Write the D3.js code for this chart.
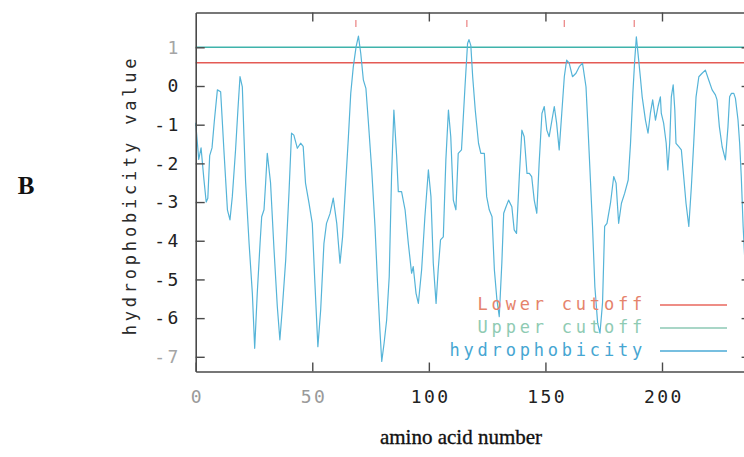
<!DOCTYPE html>
<html>
<head>
<meta charset="utf-8">
<script src="https://cdn.jsdelivr.net/npm/d3@7"></script>
<style>
  html, body { margin: 0; padding: 0; background: #fff; }
  svg { display: block; }
  .mono { font-family: "DejaVu Sans Mono", monospace; font-size: 17px; letter-spacing: 3.8px; }
  .tick-label { font-family: "DejaVu Sans Mono", monospace; font-size: 18px; letter-spacing: 2.4px; }
</style>
</head>
<body>
<svg id="chart" width="744" height="457"></svg>
<script>
// Hydrophobicity profile along the sequence (residue number, value)
const residue = [
  0, 1.3, 2.3, 3.5, 4.5, 5.2, 6, 7, 8, 9.3, 10.7, 11.4, 12.1, 13.6, 14.7, 15.7, 17.1, 18.1, 19, 20,
  20.7, 21.4, 22.9, 24.3, 25.3, 26.4, 27.6, 28.3, 29.3, 30, 30.7, 32.1, 33.6, 35, 36.1, 37.1, 38.6, 40, 41.1, 42.1,
  43.6, 45, 46.1, 47.1, 48.6, 50, 51, 52.4, 53.6, 55, 56.1, 57.6, 59, 60.5, 61.9, 63, 64, 65.5, 66.5, 67.6,
  68.8, 69.8, 70.8, 71.9, 73, 74, 75.5, 76.9, 78, 79, 79.8, 80.8, 81.9, 83, 84, 85, 86.2, 86.9, 88.3, 89.8,
  91.2, 92.6, 93.3, 94.5, 95.5, 96.9, 98.3, 99.8, 100.9, 101.9, 103.1, 104, 105, 106.2, 107.3, 108.4, 109.4, 110.5, 111.6, 112.6,
  114, 115.5, 116.6, 117.2, 118, 118.8, 119.9, 121.3, 122.3, 123.8, 124.8, 125.9, 127.1, 128.1, 129.2, 130.2, 131.3, 132.1, 133.1, 134.2,
  135.6, 136.6, 137.6, 138.8, 139.9, 140.9, 142.1, 143.1, 144.1, 145.2, 146.3, 147.3, 148.5, 149.5, 150.6, 151.6, 152.8, 153.8, 154.8, 155.9,
  157, 158.1, 159.1, 160.2, 161.6, 163.1, 164.5, 165.9, 167.4, 168.1, 169.1, 170.2, 171.2, 172.4, 173.4, 174.5, 175.4, 176.4, 177.9, 179.3,
  180.3, 181.4, 182.6, 184, 185.5, 186.5, 187.5, 188.3, 189, 190, 190.7, 191.5, 192.9, 194, 195, 196, 197.2, 198.3, 199.3, 199.7,
  200.7, 201.8, 202.5, 203.3, 204, 204.8, 205.5, 206, 207.2, 208.3, 209.3, 210.3, 211.5, 212.6, 213.6, 214.6, 215.8, 217.2, 218.6, 220,
  221.5, 222.9, 223.6, 224.6, 225.8, 227.2, 228.3, 229, 229.8, 230.8, 231.5, 232.6, 233.3, 234, 234.8, 235.6, 236.5, 237.5
];
const hydrophobicity = [
  -0.95, -1.9, -1.6, -2.4, -3.0, -2.9, -1.8, -1.6, -0.9, -0.1, -0.15, -0.9, -1.66, -3.2, -3.46, -2.86, -1.65, -0.62, 0.24, -0.02,
  -1.3, -2.47, -4.07, -5.36, -6.78, -5.36, -4.07, -3.38, -3.2, -2.5, -1.74, -2.5, -4.24, -5.7, -6.56, -5.79, -4.5, -2.77, -1.22, -1.27,
  -1.61, -1.48, -1.56, -2.51, -3.03, -3.55, -4.93, -6.74, -5.79, -4.07, -3.55, -3.3, -2.9, -3.55, -4.58, -3.9, -2.86, -1.31, -0.19, 0.5,
  1.02, 1.29, 0.84, 0.16, -0.06, -0.88, -2.17, -3.63, -5.1, -6.3, -7.12, -6.65, -6.05, -4.93, -2.34, -0.62, -1.83, -2.73, -2.73, -3.2,
  -4.07, -4.84, -4.67, -5.36, -5.62, -4.75, -3.38, -2.17, -2.86, -4.58, -5.62, -4.75, -3.98, -3.9, -1.91, -0.62, -1.31, -2.95, -3.2, -1.74,
  -1.65, -0.02, 1.1, 1.2, 1.05, 0.24, -0.62, -1.48, -1.74, -1.74, -2.86, -3.2, -3.38, -4.75, -5.53, -5.96, -4.58, -3.29, -3.12, -2.95,
  -3.12, -3.72, -3.81, -2.34, -1.14, -1.31, -2.26, -2.26, -2.34, -2.95, -3.29, -2.0, -0.71, -0.53, -1.14, -1.31, -0.88, -0.53, -0.96, -1.65,
  -0.71, 0.24, 0.67, 0.59, 0.24, 0.33, 0.5, 0.59, -0.02, -0.88, -2.17, -3.63, -5.19, -6.13, -6.39, -5.6, -3.63, -3.55, -3.03, -2.34,
  -2.51, -3.55, -3.03, -2.77, -2.43, -1.48, -0.19, 0.67, 1.27, 0.67, 0.24, -0.28, -0.88, -1.22, -0.71, -0.36, -0.88, -0.53, -0.28, -0.71,
  -0.96, -1.48, -2.17, -1.48, -0.28, 0.03, -0.62, -1.48, -1.57, -1.65, -2.34, -3.03, -3.63, -2.6, -1.48, -0.28, 0.24, 0.33, 0.41, 0.16,
  -0.1, -0.23, -0.36, -1.05, -1.57, -1.91, -1.05, -0.28, -0.19, -0.19, -0.32, -0.88, -1.48, -2.34, -3.63, -4.6, -4.0, -3.0
];

// Cutoff levels and residues flagged above the lower cutoff
const lowerCutoff = 0.6;
const upperCutoff = 1.0;
const flaggedResidues = [68.7, 116.3, 158.1, 188.1];

// Axis ticks
const xTickValues = [0, 50, 100, 150, 200];
const xTickLabels = ["0", "50", "100", "150", "200"];
const yTickValues = [-7, -6, -5, -4, -3, -2, -1, 0, 1];
const yTickLabels = ["-7", "-6", "-5", "-4", "-3", "-2", "-1", "0", "1"];

const legendItems = [
  { label: "Lower cutoff", text: "#e5836c", line: "#e8675e" },
  { label: "Upper cutoff", text: "#8fcbb3", line: "#8cc9b4" },
  { label: "hydrophobicity", text: "#46a6d2", line: "#4aaad6" }
];

const svg = d3.select("#chart");
svg.append("rect").attr("width", 744).attr("height", 457).attr("fill", "#fff");

const plot = { left: 195.7, right: 750.6, top: 12.5, bottom: 371.5 };

const x = d3.scaleLinear().domain([0, 238]).range([plot.left, plot.right]);
const y = d3.scaleLinear().domain([-7.38, 1.9]).range([plot.bottom, plot.top]);

const axisColor = "#4a4a4a";
const fadedLabels = new Set(["0", "50"]);
const fadedYLabels = new Set(["1", "-7"]);

// Cutoff lines
svg.append("line")
  .attr("x1", plot.left).attr("x2", plot.right)
  .attr("y1", y(upperCutoff)).attr("y2", y(upperCutoff))
  .attr("stroke", "#3fb3ab").attr("stroke-width", 1.4);
svg.append("line")
  .attr("x1", plot.left).attr("x2", plot.right)
  .attr("y1", y(lowerCutoff)).attr("y2", y(lowerCutoff))
  .attr("stroke", "#e45a55").attr("stroke-width", 1.4);

// Profile curve
const line = d3.line().x((d, i) => x(residue[i])).y(d => y(d));
svg.append("path")
  .datum(hydrophobicity)
  .attr("d", line)
  .attr("fill", "none")
  .attr("stroke", "#55b4d8")
  .attr("stroke-width", 1.2)
  .attr("stroke-linejoin", "round");

// Flags for peaks above the lower cutoff
svg.selectAll("line.flag")
  .data(flaggedResidues)
  .join("line")
  .attr("class", "flag")
  .attr("x1", d => x(d)).attr("x2", d => x(d))
  .attr("y1", 20).attr("y2", 27)
  .attr("stroke", "#ec8a8a").attr("stroke-width", 1.3);

// Axes
function styleAxis(g) {
  g.select(".domain").attr("stroke", axisColor).attr("stroke-width", 1.6);
  g.selectAll(".tick line").attr("stroke", axisColor).attr("stroke-width", 1.4);
  g.selectAll(".tick text").attr("class", "tick-label");
}

const xAxis = d3.axisBottom(x)
  .tickValues(xTickValues)
  .tickFormat((d, i) => xTickLabels[i])
  .tickSizeInner(-9).tickSizeOuter(0).tickPadding(19);
svg.append("g")
  .attr("transform", `translate(0,${plot.bottom})`)
  .call(xAxis)
  .call(styleAxis)
  .call(g => g.selectAll(".tick text")
    .attr("dx", "0.07em")
    .attr("fill", (d, i) => fadedLabels.has(xTickLabels[i]) ? "#9a9a9a" : "#222"));

const xAxisTop = d3.axisTop(x)
  .tickValues(xTickValues.filter(v => v > 0))
  .tickFormat("")
  .tickSizeInner(-9).tickSizeOuter(0);
svg.append("g")
  .attr("transform", `translate(0,${plot.top})`)
  .call(xAxisTop)
  .call(styleAxis);

const yAxis = d3.axisLeft(y)
  .tickValues(yTickValues)
  .tickFormat((d, i) => yTickLabels[i])
  .tickSizeInner(-9).tickSizeOuter(0).tickPadding(15);
svg.append("g")
  .attr("transform", `translate(${plot.left},0)`)
  .call(yAxis)
  .call(styleAxis)
  .call(g => g.selectAll(".tick text")
    .attr("fill", (d, i) => fadedYLabels.has(yTickLabels[i]) ? "#a5a5a5" : "#222"));

const yAxisRight = d3.axisRight(y)
  .tickValues(yTickValues)
  .tickFormat("")
  .tickSizeInner(-9).tickSizeOuter(0);
svg.append("g")
  .attr("transform", `translate(${plot.right},0)`)
  .call(yAxisRight)
  .call(styleAxis);

// Legend
const legend = svg.append("g");
legendItems.forEach((item, i) => {
  const ly = 305 + i * 23;
  legend.append("text")
    .attr("class", "mono")
    .attr("x", 646).attr("y", ly)
    .attr("dy", "0.32em")
    .attr("text-anchor", "end")
    .attr("fill", item.text)
    .text(item.label);
  legend.append("line")
    .attr("x1", 660).attr("x2", 727)
    .attr("y1", ly).attr("y2", ly)
    .attr("stroke", item.line).attr("stroke-width", 1.5);
});

// Axis titles
svg.append("text")
  .attr("class", "mono")
  .attr("transform", "translate(130,195) rotate(-90)")
  .attr("text-anchor", "middle")
  .attr("dy", "0.35em")
  .attr("fill", "#2a2a2a")
  .text("hydrophobicity value");

svg.append("text")
  .attr("x", 461).attr("y", 444)
  .attr("text-anchor", "middle")
  .attr("font-family", "'Liberation Serif', 'Times New Roman', serif")
  .attr("font-size", 21)
  .attr("fill", "#111")
  .attr("stroke", "#111")
  .attr("stroke-width", 0.35)
  .text("amino acid number");

// Panel letter
svg.append("text")
  .attr("x", 26).attr("y", 194)
  .attr("text-anchor", "middle")
  .attr("font-family", "'Liberation Serif', 'Times New Roman', serif")
  .attr("font-weight", "bold")
  .attr("font-size", 25)
  .attr("fill", "#111")
  .text("B");
</script>
</body>
</html>
